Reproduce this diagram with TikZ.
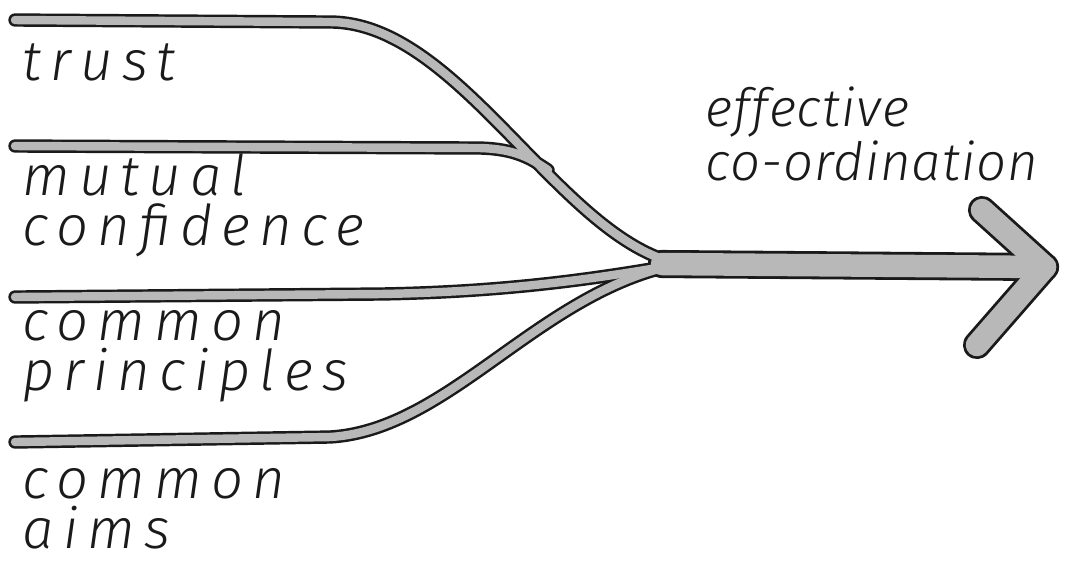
\documentclass[tikz,border=0pt]{standalone}
\usepackage{fontspec}
\setmainfont{Fira Sans}[UprightFont={* Light}, ItalicFont={* Light Italic}]
\usetikzlibrary{calc}
\definecolor{chalk}{HTML}{b8b8b8}
\definecolor{ink}{HTML}{1a1a1a}
\tikzset{
  handText/.style = {anchor=base west, align=left, inner sep=0pt, text=ink,
    font=\fontsize{16pt}{14pt}\selectfont\itshape\addfontfeature{LetterSpace=16}},
  branchOut/.style = {draw=ink, line width=3.8pt, line cap=round},
  branchIn/.style = {draw=chalk, line width=2.4pt, line cap=round},
  shaftOut/.style = {draw=ink, line width=8pt, line cap=round, line join=round},
  shaftIn/.style = {draw=chalk, line width=6.4pt, line cap=round, line join=round},
}
% all strokes, drawn once as outline and once as fill
\newcommand{\sketchStrokes}[1]{%
  \draw[branch#1] (t0) -- (t1) .. controls (460,22) and (560,240) .. (jn);
  \draw[branch#1] (m0) -- (m1) .. controls (515,149) and (530,158) .. (mj);
  \draw[branch#1] (p0) -- (p1) .. controls (500,292) and (590,280) .. (jn);
  \draw[branch#1] (a0) -- (a1) .. controls (450,430) and (540,290) .. (jn);
  \draw[shaft#1] (sh0) -- (tip);
  \draw[shaft#1] (armTop) -- (tip) -- (armBot);
}

\begin{document}
\begin{tikzpicture}[x=0.1mm, y=-0.1mm]
\useasboundingbox (0,0) rectangle (1075,561);

\coordinate (t0) at (15,20);
\coordinate (t1) at (330,22);
\coordinate (m0) at (15,146);
\coordinate (m1) at (480,148);
\coordinate (mj) at (548,170);
\coordinate (p0) at (15,297);
\coordinate (p1) at (380,294);
\coordinate (a0) at (15,442);
\coordinate (a1) at (330,437);
\coordinate (jn) at (680,264);
\coordinate (sh0) at (662,264);
\coordinate (tip) at (1045,267);
\coordinate (armTop) at (982,210);
\coordinate (armBot) at (977,345);

\sketchStrokes{Out}
\sketchStrokes{In}

% base anchor sits on the last line
\node[handText] (trust) at (22,80) {trust};
\node[handText] (mutual) at (22,245) {mutual\\confidence};
\node[handText] (principles) at (22,390) {common\\principles};
\node[handText] (aims) at (22,548) {common\\aims};
\node[handText, font=\fontsize{15pt}{13.5pt}\selectfont\itshape\addfontfeature{LetterSpace=2}]
  (goal) at (705,180) {effective\\co-ordination};

\end{tikzpicture}
\end{document}
